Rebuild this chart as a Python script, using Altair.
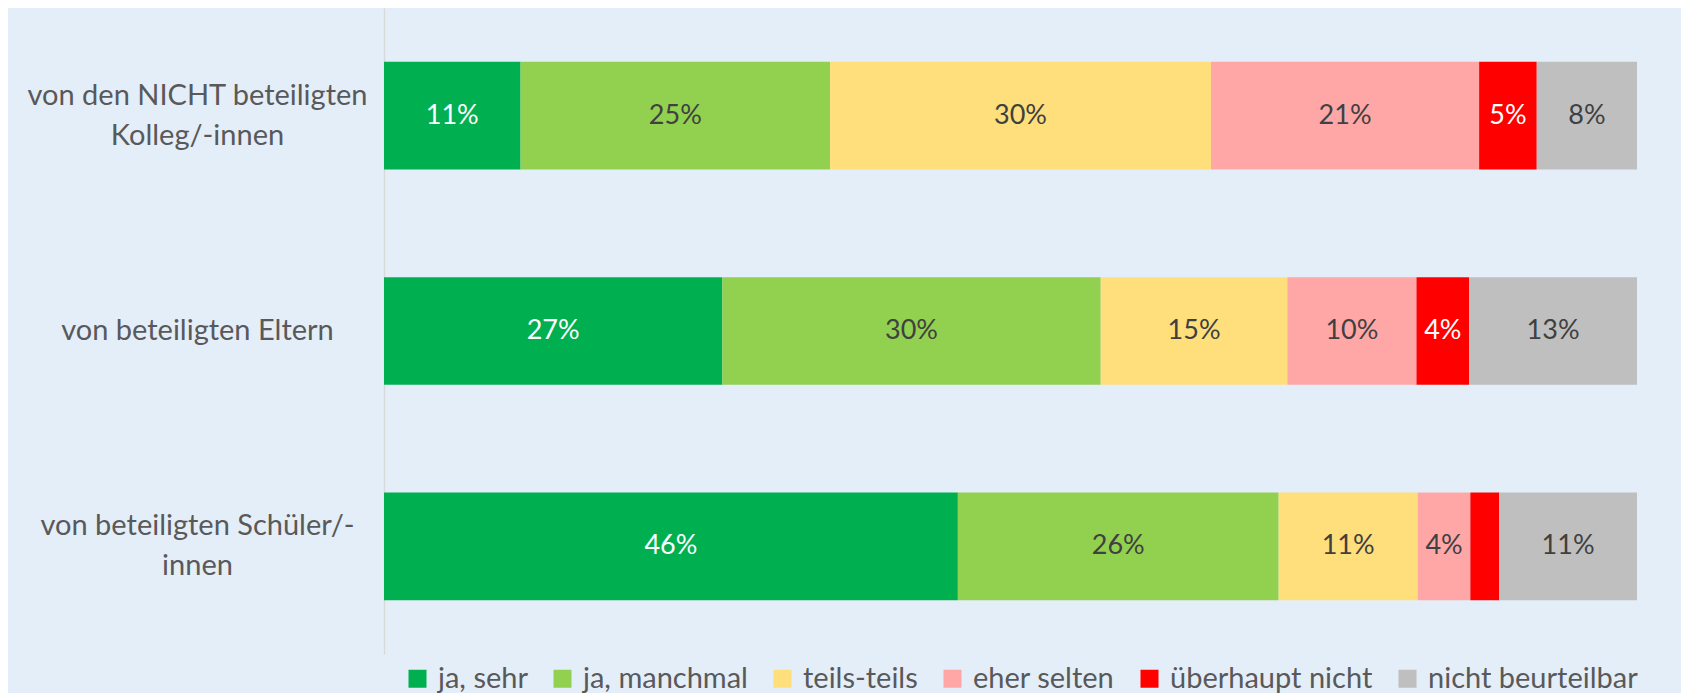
import altair as alt
import pandas as pd

groups = [
    "von den NICHT beteiligten|Kolleg/-innen",
    "von beteiligten Eltern",
    "von beteiligten Schüler/-|innen",
]
categories = ["ja, sehr", "ja, manchmal", "teils-teils", "eher selten", "überhaupt nicht", "nicht beurteilbar"]
colors = ["#00B050", "#92D050", "#FFDF7C", "#FFA7A7", "#FF0000", "#BFBFBF"]
text_colors = ["#FFFFFF", "#404040", "#404040", "#404040", "#FFFFFF", "#404040"]

values_kollegen = [10.9, 24.7, 30.4, 21.4, 4.6, 8.0]
values_eltern = [27.0, 30.2, 14.9, 10.3, 4.2, 13.4]
values_schueler = [45.8, 25.6, 11.1, 4.2, 2.3, 11.0]

rows = []
for g, vals in zip(groups, [values_kollegen, values_eltern, values_schueler]):
    for i, (c, v) in enumerate(zip(categories, vals)):
        rows.append({"group": g, "cat": c, "idx": i, "value": v, "tcolor": text_colors[i]})
df = pd.DataFrame(rows)

FONT = "Lato"
BG = "#E4EEF9"

base = alt.Chart(df).transform_stack(
    stack="value", groupby=["group"], as_=["x0", "x1"], sort=[alt.SortField("idx", order="ascending")]
).transform_calculate(
    mid="(datum.x0 + datum.x1) / 2",
    lab="datum.value >= 3 ? format(round(datum.value), 'd') + '%' : ''",
)

yenc = alt.Y(
    "group:N",
    sort=groups,
    title=None,
    scale=alt.Scale(paddingInner=0.5, paddingOuter=0.25),
    axis=alt.Axis(
        labelExpr="split(datum.label, '|')",
        labelAlign="center",
        labelPadding=187,
        labelLimit=500,
        labelFontSize=29,
        labelFont=FONT,
        labelColor="#595959",
        labelLineHeight=40,
        labelOffset={"condition": {"test": "indexof(datum.value, '|') >= 0", "value": -20}, "value": 0},
        ticks=False,
        domainColor="#D9D9D9",
        domainWidth=1.5,
        grid=False,
    ),
)

bars = base.mark_bar(stroke=None).encode(
    x=alt.X("x0:Q", scale=alt.Scale(domain=[0, 100], nice=False), axis=None),
    x2="x1:Q",
    y=yenc,
    color=alt.Color(
        "cat:N",
        sort=categories,
        scale=alt.Scale(domain=categories, range=colors),
        legend=alt.Legend(
            title=None,
            orient="none",
            direction="horizontal",
            legendX=19,
            legendY=656,
            symbolType="square",
            symbolSize=324,
            symbolStrokeWidth=0,
            labelFontSize=29,
            labelFont=FONT,
            labelColor="#595959",
            labelOffset=6,
            columnPadding=20,
            labelLimit=400,
        ),
    ),
)

labels = base.mark_text(font=FONT, fontSize=27).encode(
    x=alt.X("mid:Q", scale=alt.Scale(domain=[0, 100], nice=False)),
    y=alt.Y("group:N", sort=groups),
    text="lab:N",
    color=alt.Color("tcolor:N", scale=None),
)

chart = (
    alt.layer(bars, labels)
    .properties(
        width=1253,
        height=646,
        background=BG,
        padding={"left": 376, "top": 0, "right": 44, "bottom": 40},
        autosize=alt.AutoSizeParams(type="none"),
    )
    .configure_view(stroke=None)
)

chart.save("out.html", embed_options={"renderer": "svg", "actions": False})
